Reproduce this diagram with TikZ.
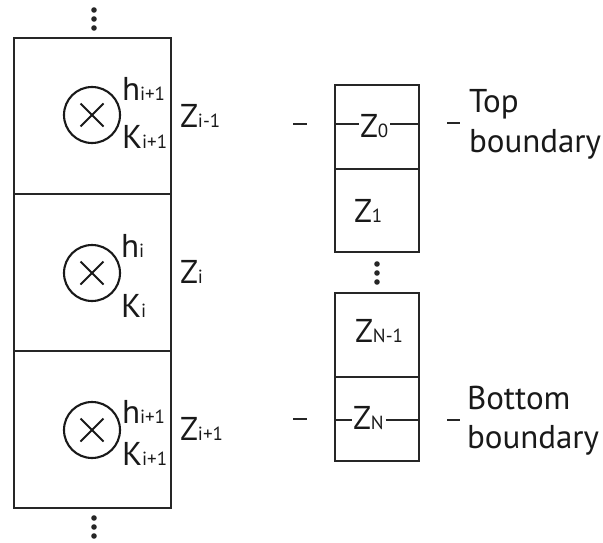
\documentclass[tikz,border=0pt]{standalone}
\usepackage{fontspec}
\setmainfont{PT Sans}
\newcommand{\bigtxt}{\fontsize{33}{38}\selectfont}
\newcommand{\smtxt}[1]{{\fontsize{19}{22}\selectfont #1}}
\tikzset{
  frame/.style={line width=2.6pt, draw=black!85},
  ring/.style={line width=2.1pt, draw=black!90},
  tick/.style={line width=2.2pt, draw=black!85},
  lbl/.style={anchor=base west, inner sep=0pt, outer sep=0pt, font=\bigtxt, text=black!90},
  dotf/.style={fill=black!85},
}
\begin{document}
\begin{tikzpicture}[x=1pt,y=-1pt]
\useasboundingbox (0,0) rectangle (603,543);
% left column
\draw[frame] (14,38) rectangle (171,508);
\draw[frame] (14,194) -- (171,194);
\draw[frame] (14,351) -- (171,351);
% dots
\foreach \y in {10,19,28} \fill[dotf] (94,\y) circle (2.8);
\foreach \y in {518,527,536} \fill[dotf] (94,\y) circle (2.8);
% circles with crosses
\foreach \cy/\nm in {115/a,273/b,430/c}{
  \node[ring, circle, minimum size=56pt, inner sep=0pt] (c\nm) at (92,\cy) {};
  \draw[ring] ([shift={(-11.5,-11.5)}]c\nm.center) -- ([shift={(11.5,11.5)}]c\nm.center);
  \draw[ring] ([shift={(-11.5,11.5)}]c\nm.center) -- ([shift={(11.5,-11.5)}]c\nm.center);
}
% labels
\node[lbl] (h1) at (122,100) {h\smtxt{i+1}};
\node[lbl] (k1) at (122,149) {K\smtxt{i+1}};
\node[lbl] (z1) at (180,128) {Z\smtxt{i-1}};
\node[lbl] (h2) at (121,257) {h\smtxt{i}};
\node[lbl] (k2) at (121,317) {K\smtxt{i}};
\node[lbl] (z2) at (180,283) {Z\smtxt{i}};
\node[lbl] (h3) at (122,423) {h\smtxt{i+1}};
\node[lbl] (k3) at (122,465) {K\smtxt{i+1}};
\node[lbl] (z3) at (180,440) {Z\smtxt{i+1}};
% middle dashes
\coordinate (ma1) at (293,124); \coordinate (ma2) at (307,124);
\coordinate (mb1) at (293,419); \coordinate (mb2) at (307,419);
\draw[tick] (ma1) -- (ma2);
\draw[tick] (mb1) -- (mb2);
% right column
\draw[frame] (335,85) rectangle (419,252);
\draw[frame] (335,169) -- (419,169);
\draw[frame] (335,293) rectangle (419,461);
\draw[frame] (335,377) -- (419,377);
\foreach \y in {264,273,282} \fill[dotf] (377,\y) circle (2.8);
\node[lbl] (zz0) at (360,137) {Z\smtxt{0}};
\draw[line width=2pt, draw=black!85] (335,124) -- ([xshift=-1pt]zz0.west |- 0,124);
\draw[line width=2pt, draw=black!85] ([xshift=2pt]zz0.east |- 0,124) -- (419,124);
\node[lbl] (zz1) at (354,222) {Z\smtxt{1}};
\node[lbl] (zzn1) at (355,342) {Z\smtxt{N-1}};
\node[lbl] (zzn) at (353,429) {Z\smtxt{N}};
\draw[line width=2pt, draw=black!85] (335,420) -- ([xshift=-1pt]zzn.west |- 0,420);
\draw[line width=2pt, draw=black!85] ([xshift=2pt]zzn.east |- 0,420) -- (419,420);
% right dashes
\coordinate (ra1) at (447,123); \coordinate (ra2) at (460,123);
\coordinate (rb1) at (447,420); \coordinate (rb2) at (460,420);
\draw[tick] (ra1) -- (ra2);
\draw[tick] (rb1) -- (rb2);
\node[lbl] (top) at (469,113) {Top};
\node[lbl] (tb) at (469,152) {boundary};
\node[lbl] (bot) at (467,409) {Bottom};
\node[lbl] (bb) at (467,448) {boundary};
\end{tikzpicture}
\end{document}
